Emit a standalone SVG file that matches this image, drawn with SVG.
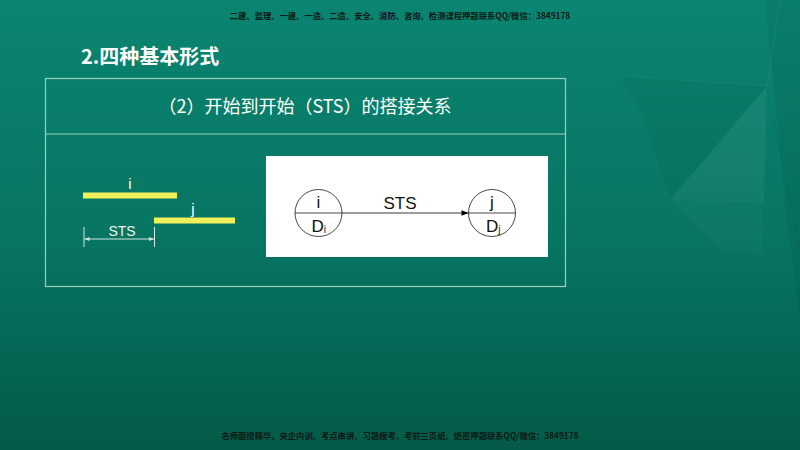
<svg xmlns="http://www.w3.org/2000/svg" width="800" height="450" viewBox="0 0 800 450">
<defs>
<linearGradient id="bg" x1="0" y1="0" x2="0" y2="1">
<stop offset="0" stop-color="#0a8571"/>
<stop offset="0.55" stop-color="#077461"/>
<stop offset="1" stop-color="#045a48"/>
</linearGradient>
<marker id="arr" viewBox="0 0 10 10" refX="10" refY="5" markerWidth="9" markerHeight="7" orient="auto" markerUnits="userSpaceOnUse">
<path d="M0,1 L10,5 L0,9 Z" fill="#000"/>
</marker>
<marker id="dim" viewBox="0 0 10 10" refX="10" refY="5" markerWidth="7" markerHeight="5" orient="auto" markerUnits="userSpaceOnUse">
<path d="M0,1 L10,5 L0,9 Z" fill="#cfe6de"/>
</marker>
</defs>
<style>
.cjk{font-family:"Noto Sans CJK SC","Noto Sans",sans-serif;}
.lat{font-family:"Liberation Sans",Arial,sans-serif;}
.wm{font-size:8.3px;fill:#0d1a15;font-weight:bold;}
.frame{fill:none;stroke:#9ccfc0;stroke-width:1.2;}
.bar{fill:#f2f05a;}
.node{fill:none;stroke:#333;stroke-width:0.9;}
.nt{font-size:17px;fill:#111;}
</style>
<rect width="800" height="450" fill="url(#bg)"/>
<g id="bg-shapes">
<polygon points="620,76 767,86 670,200 640,110" fill="#000" opacity="0.04"/>
<polygon points="767,86 670,200 764,203" fill="#fff" opacity="0.05"/>
<polygon points="670,200 764,203 762,255 720,250" fill="#fff" opacity="0.025"/>
<polygon points="765,0 800,0 800,320 785,200" fill="#000" opacity="0.05"/>
<line x1="620" y1="76" x2="767" y2="86" stroke="#fff" stroke-opacity="0.05"/>
<line x1="767" y1="86" x2="780" y2="0" stroke="#fff" stroke-opacity="0.06"/>
<line x1="767" y1="86" x2="800" y2="250" stroke="#000" stroke-opacity="0.06"/>
</g>
<text class="cjk wm" x="400" y="18.5" text-anchor="middle">二建、监理、一建、一造、二造、安全、消防、咨询、检测课程押题联系QQ/微信：3849178</text>
<text class="cjk wm" x="400" y="438.5" text-anchor="middle">名师面授精华、央企内训、考点串讲、习题模考、考前三页纸、绝密押题联系QQ/微信：3849178</text>
<text class="cjk" x="81" y="64" font-size="20" font-weight="bold" fill="#fff">2.四种基本形式</text>
<g id="table">
<rect class="frame" x="45.5" y="78.5" width="520" height="208"/>
<line class="frame" x1="45.5" y1="134" x2="565.5" y2="134"/>
<text class="cjk" x="305" y="113" font-size="18" fill="#fff" text-anchor="middle">（2）开始到开始（STS）的搭接关系</text>
</g>
<g id="bar-i">
<rect class="bar" x="83" y="192.5" width="94" height="6"/>
<text class="lat" x="130" y="189" font-size="15" fill="#fff" text-anchor="middle">i</text>
</g>
<g id="bar-j">
<rect class="bar" x="154" y="217.5" width="81" height="6"/>
<text class="lat" x="193" y="214" font-size="15" fill="#fff" text-anchor="middle">j</text>
</g>
<g id="dimension">
<line x1="84" y1="227" x2="84" y2="247" stroke="#cfe6de" stroke-width="1"/>
<line x1="154.5" y1="227" x2="154.5" y2="247" stroke="#cfe6de" stroke-width="1"/>
<line x1="119" y1="239" x2="84.5" y2="239" stroke="#cfe6de" stroke-width="1" marker-end="url(#dim)"/>
<line x1="119" y1="239" x2="154" y2="239" stroke="#cfe6de" stroke-width="1" marker-end="url(#dim)"/>
<text class="lat" x="122" y="236" font-size="14" fill="#eef6f2" text-anchor="middle">STS</text>
</g>
<rect id="panel" x="266" y="156" width="282" height="101" fill="#fff"/>
<g id="node-i">
<circle class="node" cx="318.5" cy="213" r="23.5"/>
<line class="node" x1="295" y1="213" x2="342" y2="213"/>
<text class="lat nt" x="318.5" y="207.5" text-anchor="middle">i</text>
<text class="lat nt" x="311.5" y="232">D<tspan font-size="10" dy="1">i</tspan></text>
</g>
<g id="node-j">
<circle class="node" cx="492" cy="213" r="23.5"/>
<line class="node" x1="468.5" y1="213" x2="515.5" y2="213"/>
<text class="lat nt" x="492" y="207.5" text-anchor="middle">j</text>
<text class="lat nt" x="486" y="232">D<tspan font-size="10" dy="1">j</tspan></text>
</g>
<g id="connectors">
<line x1="342" y1="213" x2="468.5" y2="213" stroke="#222" stroke-width="0.9" marker-end="url(#arr)"/>
<text class="lat" x="400" y="209" font-size="17" fill="#111" text-anchor="middle">STS</text>
</g>
</svg>
